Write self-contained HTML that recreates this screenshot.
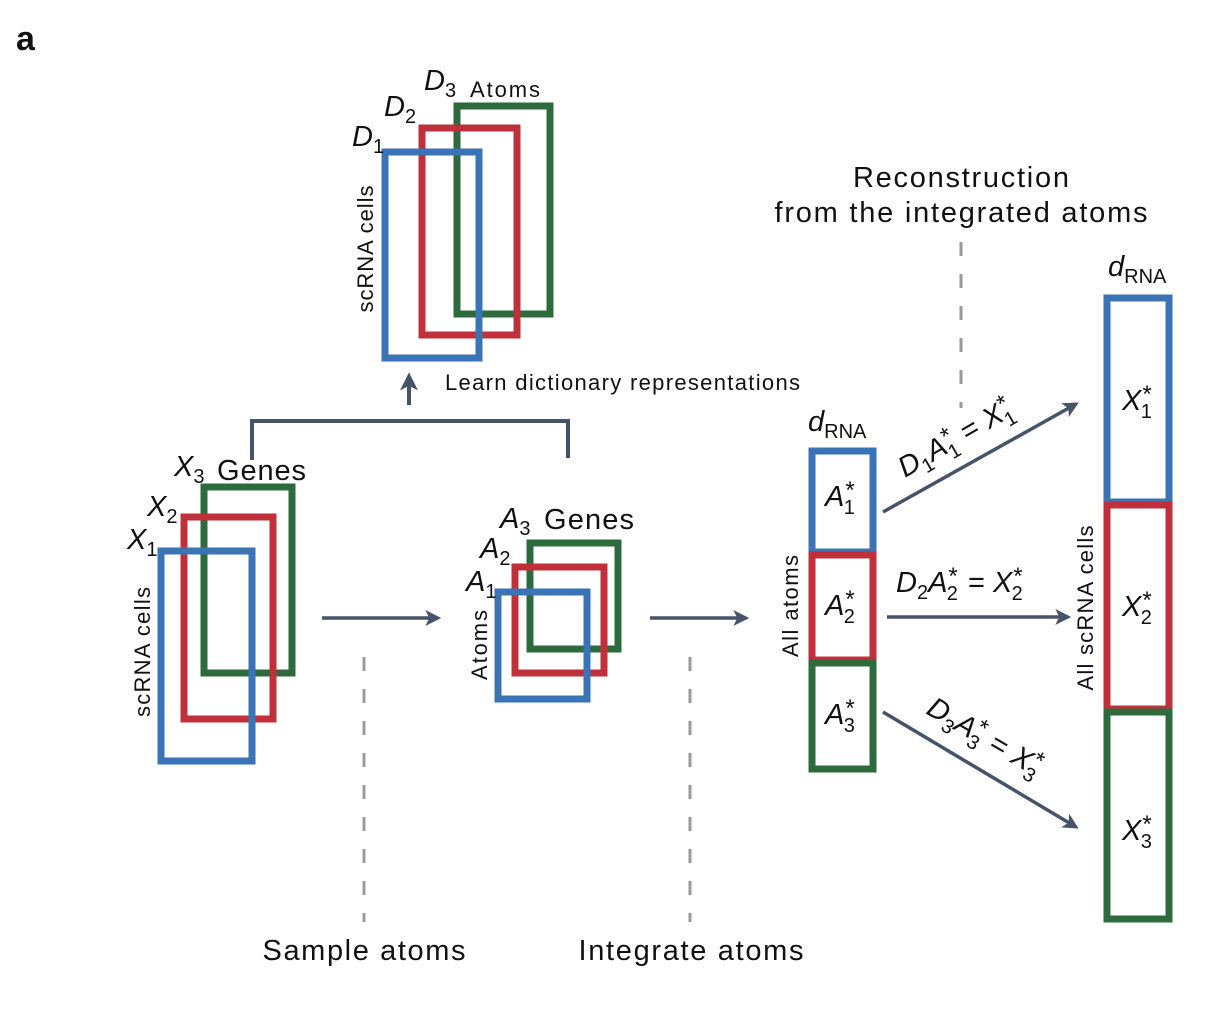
<!DOCTYPE html>
<html><head><meta charset="utf-8"><style>
html,body{margin:0;padding:0;background:#fff;}
svg{display:block;font-family:"Liberation Sans",sans-serif;}
.m{font-style:italic;font-size:29px;fill:#111;}
.s{font-style:normal;font-size:20px;}
.st{font-style:normal;font-size:24px;}
.t{font-size:29px;fill:#111;}
.ax{font-size:22px;fill:#111;}
</style></head><body>
<svg width="1208" height="1022" viewBox="0 0 1208 1022">
<defs>
<marker id="ah" viewBox="0 0 10 10" refX="8" refY="5" markerWidth="4.5" markerHeight="4.5" orient="auto" markerUnits="strokeWidth">
<path d="M0,0 L10,5 L0,10 L2.5,5 z" fill="#46536a"/></marker>
</defs>
<text x="16" y="50" font-size="34" font-weight="bold" fill="#111">a</text>

<g fill="none" stroke-width="7">
<rect x="457" y="106" width="93" height="208" stroke="#2d6b3c"/>
<rect x="422" y="128" width="95" height="207" stroke="#c0303a"/>
<rect x="385" y="152" width="94" height="206" stroke="#3a73b6"/>
</g>
<text class="m" x="352" y="146">D<tspan class="s" dy="7">1</tspan></text>
<text class="m" x="384" y="116">D<tspan class="s" dy="7">2</tspan></text>
<text class="m" x="424" y="90">D<tspan class="s" dy="7">3</tspan></text>
<text class="ax" x="470" y="97" textLength="70">Atoms</text>
<text class="ax" transform="translate(373,249) rotate(-90)" text-anchor="middle" textLength="127">scRNA cells</text>

<path d="M252,460 V421 H568 V458" fill="none" stroke="#46536a" stroke-width="4"/>
<line x1="409" y1="405" x2="409" y2="376" stroke="#46536a" stroke-width="4" marker-end="url(#ah)"/>
<text x="445" y="390" font-size="22" fill="#111" textLength="355">Learn dictionary representations</text>

<g fill="none" stroke-width="7">
<rect x="204" y="487" width="88" height="186" stroke="#2d6b3c"/>
<rect x="184" y="517" width="89" height="202" stroke="#c0303a"/>
<rect x="161" y="551" width="91" height="210" stroke="#3a73b6"/>
</g>
<text class="m" x="127" y="549">X<tspan class="s" dy="7">1</tspan></text>
<text class="m" x="147" y="516">X<tspan class="s" dy="7">2</tspan></text>
<text class="m" x="174" y="476">X<tspan class="s" dy="7">3</tspan></text>
<text class="t" x="217" y="480" textLength="89">Genes</text>
<text class="ax" transform="translate(150,652) rotate(-90)" text-anchor="middle" textLength="130">scRNA cells</text>

<line x1="322" y1="618" x2="438" y2="618" stroke="#46536a" stroke-width="3.5" marker-end="url(#ah)"/>

<g fill="none" stroke-width="7">
<rect x="530" y="543" width="88" height="106" stroke="#2d6b3c"/>
<rect x="515" y="567" width="89" height="106" stroke="#c0303a"/>
<rect x="498" y="592" width="89" height="107" stroke="#3a73b6"/>
</g>
<text class="m" x="466" y="591">A<tspan class="s" dy="7">1</tspan></text>
<text class="m" x="480" y="558">A<tspan class="s" dy="7">2</tspan></text>
<text class="m" x="500" y="528">A<tspan class="s" dy="7">3</tspan></text>
<text class="t" x="544" y="529" textLength="90">Genes</text>
<text class="ax" transform="translate(487,645) rotate(-90)" text-anchor="middle" textLength="70">Atoms</text>

<line x1="650" y1="618" x2="746" y2="618" stroke="#46536a" stroke-width="3.5" marker-end="url(#ah)"/>

<g stroke="#9a9a9a" stroke-width="3" stroke-dasharray="14,18">
<line x1="364" y1="657" x2="364" y2="922"/>
<line x1="690" y1="657" x2="690" y2="922"/>
<line x1="961" y1="242" x2="961" y2="408"/>
</g>
<text class="t" x="364" y="960" text-anchor="middle" textLength="203">Sample atoms</text>
<text class="t" x="691" y="960" text-anchor="middle" textLength="225">Integrate atoms</text>
<text class="t" x="961" y="187" text-anchor="middle" textLength="216">Reconstruction</text>
<text class="t" x="961" y="222" text-anchor="middle" textLength="373">from the integrated atoms</text>

<g fill="none" stroke-width="7">
<rect x="812" y="451" width="61" height="101" stroke="#3a73b6"/>
<rect x="812" y="555" width="61" height="105" stroke="#c0303a"/>
<rect x="812" y="663" width="61" height="106" stroke="#2d6b3c"/>
</g>
<text class="m" x="808" y="431">d<tspan class="s" dy="7">RNA</tspan></text>
<text class="m" x="825" y="506">A<tspan class="st" dy="-8" dx="1">*</tspan><tspan class="s" dy="16" dx="-11">1</tspan></text>
<text class="m" x="825" y="615">A<tspan class="st" dy="-8" dx="1">*</tspan><tspan class="s" dy="16" dx="-11">2</tspan></text>
<text class="m" x="825" y="724">A<tspan class="st" dy="-8" dx="1">*</tspan><tspan class="s" dy="16" dx="-11">3</tspan></text>
<text class="ax" transform="translate(798,606) rotate(-90)" text-anchor="middle" textLength="102">All atoms</text>

<g fill="none" stroke-width="7">
<rect x="1107" y="298" width="62" height="204" stroke="#3a73b6"/>
<rect x="1107" y="505" width="62" height="204" stroke="#c0303a"/>
<rect x="1107" y="712" width="62" height="207" stroke="#2d6b3c"/>
</g>
<text class="m" x="1108" y="276">d<tspan class="s" dy="7">RNA</tspan></text>
<text class="m" x="1122" y="410">X<tspan class="st" dy="-8" dx="1">*</tspan><tspan class="s" dy="16" dx="-11">1</tspan></text>
<text class="m" x="1122" y="616">X<tspan class="st" dy="-8" dx="1">*</tspan><tspan class="s" dy="16" dx="-11">2</tspan></text>
<text class="m" x="1122" y="840">X<tspan class="st" dy="-8" dx="1">*</tspan><tspan class="s" dy="16" dx="-11">3</tspan></text>
<text class="ax" transform="translate(1093,608) rotate(-90)" text-anchor="middle" textLength="165">All scRNA cells</text>

<g stroke="#46536a" stroke-width="3.5">
<line x1="883" y1="512" x2="1076" y2="404" marker-end="url(#ah)"/>
<line x1="887" y1="617" x2="1068" y2="617" marker-end="url(#ah)"/>
<line x1="883" y1="712" x2="1076" y2="827" marker-end="url(#ah)"/>
</g>
<g transform="translate(905,478) rotate(-30)"><text class="m" font-size="28">D<tspan class="s" dy="7">1</tspan><tspan dy="-7">A</tspan><tspan class="st" dy="-8" dx="1">*</tspan><tspan class="s" dy="16" dx="-11">1</tspan><tspan style="font-style:normal" dy="-8" dx="2"> = </tspan><tspan>X</tspan><tspan class="st" dy="-8" dx="1">*</tspan><tspan class="s" dy="16" dx="-11">1</tspan></text></g>
<text class="m" x="896" y="592">D<tspan class="s" dy="7">2</tspan><tspan dy="-7">A</tspan><tspan class="st" dy="-8" dx="1">*</tspan><tspan class="s" dy="16" dx="-11">2</tspan><tspan style="font-style:normal" dy="-8" dx="2"> = </tspan><tspan>X</tspan><tspan class="st" dy="-8" dx="1">*</tspan><tspan class="s" dy="16" dx="-11">2</tspan></text>
<g transform="translate(925,713) rotate(30)"><text class="m">D<tspan class="s" dy="7">3</tspan><tspan dy="-7">A</tspan><tspan class="st" dy="-8" dx="1">*</tspan><tspan class="s" dy="16" dx="-11">3</tspan><tspan style="font-style:normal" dy="-8" dx="2"> = </tspan><tspan>X</tspan><tspan class="st" dy="-8" dx="1">*</tspan><tspan class="s" dy="16" dx="-11">3</tspan></text></g>
</svg>
</body></html>
